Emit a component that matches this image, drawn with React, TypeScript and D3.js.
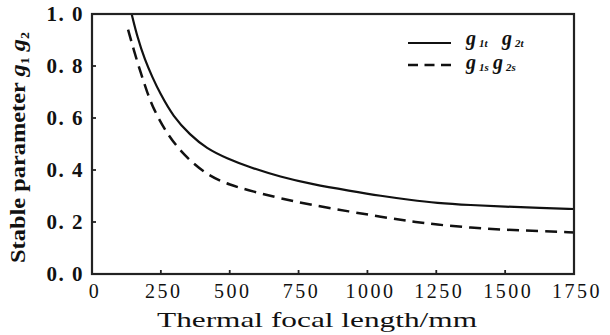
import React from "react";
import * as d3 from "d3";

const xTicks = [0, 250, 500, 750, 1000, 1250, 1500, 1750];
const yTicks = [0, 0.2, 0.4, 0.6, 0.8, 1.0];
const yTickLabels = ["0. 0", "0. 2", "0. 4", "0. 6", "0. 8", "1. 0"];

const tangentialF = [144, 165, 192, 220, 247, 295, 356, 416, 489, 574, 683, 800, 936, 1050, 1154, 1250, 1375, 1500, 1625, 1750];
const tangentialG = [1.0, 0.91, 0.823, 0.755, 0.695, 0.605, 0.535, 0.483, 0.445, 0.41, 0.374, 0.345, 0.32, 0.3, 0.285, 0.273, 0.265, 0.259, 0.254, 0.25];

const sagittalF = [131, 152, 178, 200, 223, 271, 332, 416, 501, 586, 683, 800, 936, 1050, 1154, 1250, 1375, 1500, 1625, 1750];
const sagittalG = [0.94, 0.86, 0.77, 0.7, 0.635, 0.541, 0.458, 0.381, 0.342, 0.317, 0.291, 0.265, 0.24, 0.22, 0.203, 0.19, 0.178, 0.17, 0.165, 0.16];

const W = 610;
const H = 335;
const L = 92, T = 14, R = 574, B = 274;
const FONT = "'Liberation Serif', 'Times New Roman', Times, 'DejaVu Serif', serif";
const INK = "#111";

export default function App() {
  const x = d3.scaleLinear().domain([0, 1750]).range([L, R]);
  const y = d3.scaleLinear().domain([0, 1]).range([B, T]);
  const line = d3
    .line<[number, number]>()
    .x((d) => x(d[0]))
    .y((d) => y(d[1]))
    .curve(d3.curveBasis);
  const tData = tangentialF.map((f, i) => [f, tangentialG[i]] as [number, number]);
  const sData = sagittalF.map((f, i) => [f, sagittalG[i]] as [number, number]);

  return (
    <svg
      width={W}
      height={H}
      style={{ position: "absolute", left: 0, top: 0, background: "#fff" }}
    >
      <rect x={0} y={0} width={W} height={H} fill="#fff" />
      <path d={line(tData) || ""} fill="none" stroke={INK} strokeWidth={2.2} />
      <path d={line(sData) || ""} fill="none" stroke={INK} strokeWidth={2.5} strokeDasharray="12 7" />
      <rect x={L} y={T} width={R - L} height={B - T} fill="none" stroke="#222" strokeWidth={2.2} />
      {xTicks.map((t) => (
        <g key={"x" + t}>
          {t > 0 && t < 1750 && (
            <line x1={x(t)} x2={x(t)} y1={B} y2={B - 4} stroke="#222" strokeWidth={1.8} />
          )}
          <text
            x={x(t) + 3}
            y={298}
            textAnchor="middle"
            fontFamily={FONT}
            fontSize={20}
            letterSpacing={2.5}
            fill={INK}
          >
            {String(t)}
          </text>
        </g>
      ))}
      {yTicks.map((t, i) => (
        <g key={"y" + t}>
          {t > 0 && t < 1 && (
            <line x1={L} x2={L + 4} y1={y(t)} y2={y(t)} stroke="#222" strokeWidth={1.8} />
          )}
          <text
            x={84}
            y={y(t) + 7}
            textAnchor="end"
            fontFamily={FONT}
            fontSize={21}
            fontWeight="bold"
            letterSpacing={1.5}
            fill={INK}
          >
            {yTickLabels[i]}
          </text>
        </g>
      ))}
      <text
        x={157}
        y={327}
        fontFamily={FONT}
        fontSize={21}
        textLength={320}
        lengthAdjust="spacingAndGlyphs"
        fill={INK}
      >
        Thermal focal length/mm
      </text>
      <text
        transform="translate(25,263) rotate(-90)"
        x={0}
        y={0}
        fontFamily={FONT}
        fontSize={21}
        fontWeight="bold"
        textLength={231}
        lengthAdjust="spacingAndGlyphs"
        fill={INK}
      >
        Stable parameter{" "}
        <tspan fontStyle="italic">g</tspan>
        <tspan fontSize={12} dy={4}>1</tspan>
        <tspan dy={-4}> </tspan>
        <tspan fontStyle="italic">g</tspan>
        <tspan fontSize={12} dy={4}>2</tspan>
      </text>
      <line x1={408} x2={451} y1={43} y2={43} stroke={INK} strokeWidth={2.2} />
      <line x1={408} x2={451} y1={65} y2={65} stroke={INK} strokeWidth={2.5} strokeDasharray="10 6.5" />
      <text y={45} fontFamily={FONT} fontSize={20} fontStyle="italic" fontWeight="bold" fill={INK}>
        <tspan x={466}>g</tspan>
        <tspan x={479} fontSize={11} dy={2}>1t</tspan>
        <tspan x={502} dy={-2}>g</tspan>
        <tspan x={515} fontSize={11} dy={2}>2t</tspan>
      </text>
      <text y={69} fontFamily={FONT} fontSize={20} fontStyle="italic" fontWeight="bold" fill={INK}>
        <tspan x={466}>g</tspan>
        <tspan x={479} fontSize={11} dy={2}>1s</tspan>
        <tspan x={493} dy={-2}>g</tspan>
        <tspan x={506} fontSize={11} dy={2}>2s</tspan>
      </text>
    </svg>
  );
}
